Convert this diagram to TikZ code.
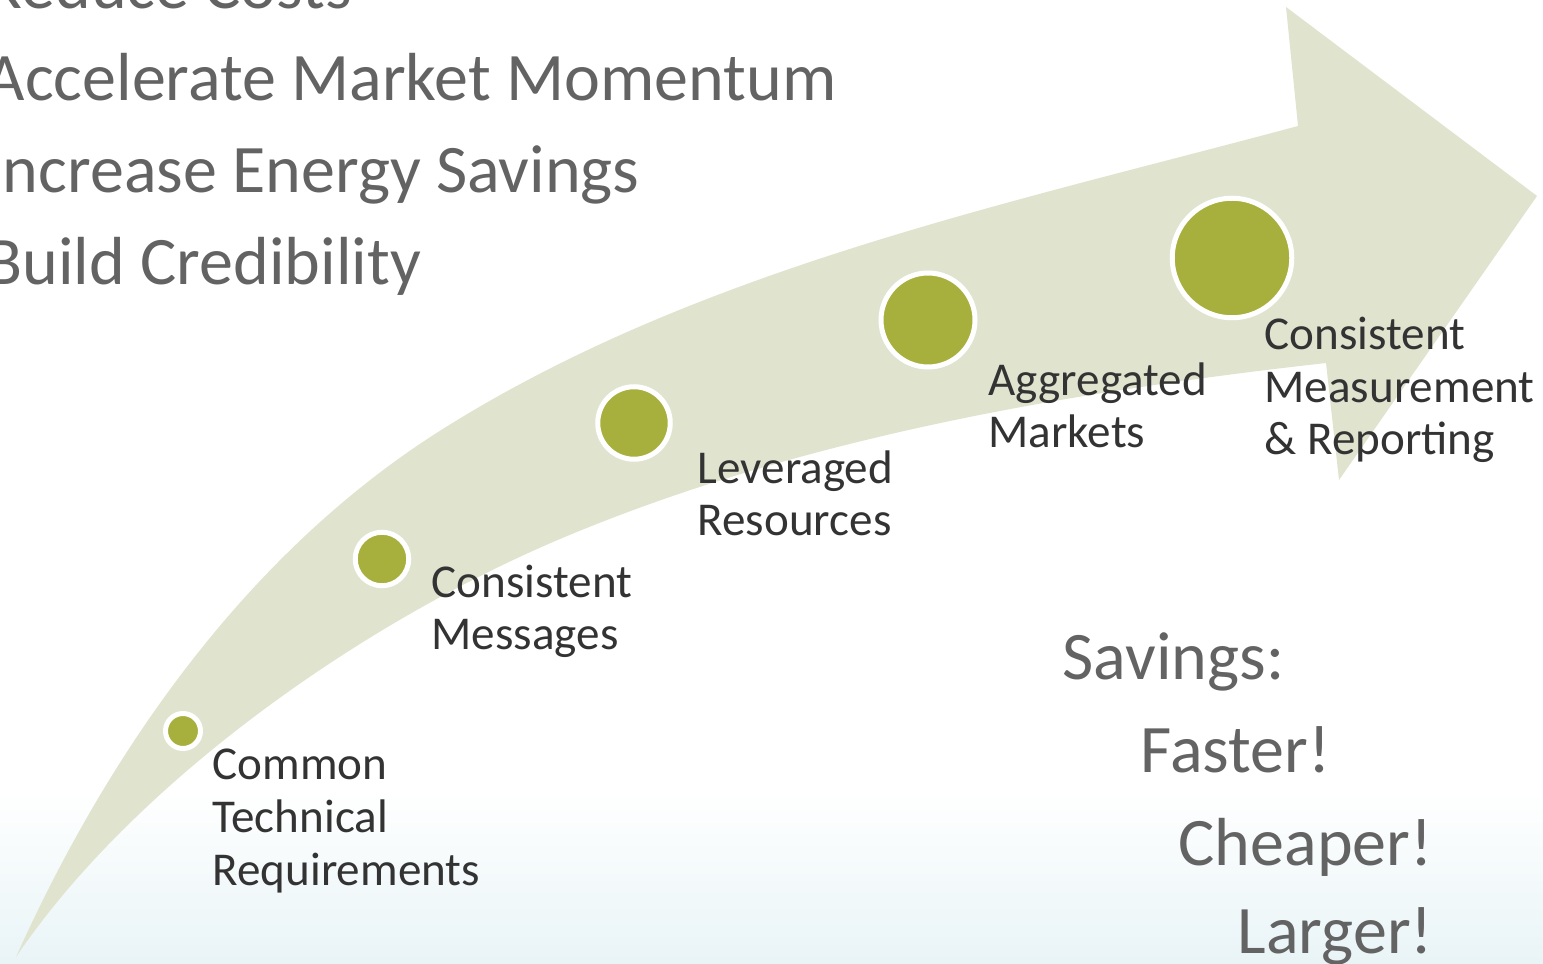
\documentclass[tikz,border=0pt]{standalone}
\usepackage{fontspec}
\setmainfont{Carlito}
\definecolor{arrowfill}{RGB}{224,228,207}
\definecolor{dotgreen}{RGB}{167,176,60}
\definecolor{biggray}{RGB}{99,99,99}
\definecolor{lbltext}{RGB}{51,51,51}
\definecolor{bgblue}{RGB}{233,244,247}

\begin{document}
\begin{tikzpicture}[x=0.1mm,y=-0.1mm,
  dot/.style={circle,fill=dotgreen,draw=white,line width=0.5mm,inner sep=0pt},
  lbl/.style={font=\fontsize{13.4}{14.94}\selectfont,text=lbltext,align=left,anchor=base west,inner sep=0pt},
  big/.style={font=\fontsize{19.35}{26.18}\selectfont,text=biggray,align=left,anchor=base west,inner sep=0pt}]
\useasboundingbox (0,0) rectangle (1543,964);
\fill[white] (0,0) rectangle (1543,964);
\shade[top color=white,bottom color=bgblue] (0,790) rectangle (1543,964);
% the big arrow
\fill[arrowfill] (16,957) .. controls (110,748) and (250,549) .. (446,427)
  .. controls (701,268) and (1008,204) .. (1298,126)
  -- (1286,7) -- (1537,196) -- (1339,480) -- (1326,363)
  .. controls (1068,392) and (799,438) .. (560,539)
  .. controls (348,629) and (128,791) .. (16,957) -- cycle;

% goals (base = last line)
\node[big](goals) at (-15,285) {Reduce Costs\\Accelerate Market Momentum\\Increase Energy Savings\\Build Credibility};
\node[big](sv) at (1062,680) {Savings:};
\node[big](fa) at (1140,772) {Faster!};
\node[big](ch) at (1178,865) {Cheaper!};
\node[big](la) at (1237,953) {Larger!};

% steps
\node[dot,minimum size=3.5mm](c1) at (183,731) {};
\node[dot,minimum size=5.35mm](c2) at (382,559) {};
\node[dot,minimum size=7.25mm](c3) at (634,423) {};
\node[dot,minimum size=9.4mm](c4) at (928,320) {};
\node[dot,minimum size=11.95mm](c5) at (1232,258) {};

\node[lbl](t1) at (212,885) {Common\\Technical\\Requirements};
\node[lbl](t2) at (431,650) {Consistent\\Messages};
\node[lbl](t3) at (697,536) {Leveraged\\Resources};
\node[lbl](t4) at (988,448) {Aggregated\\Markets};
\node[lbl](t5) at (1264,455) {Consistent\\Measurement\\\& Reporting};
\end{tikzpicture}
\end{document}
